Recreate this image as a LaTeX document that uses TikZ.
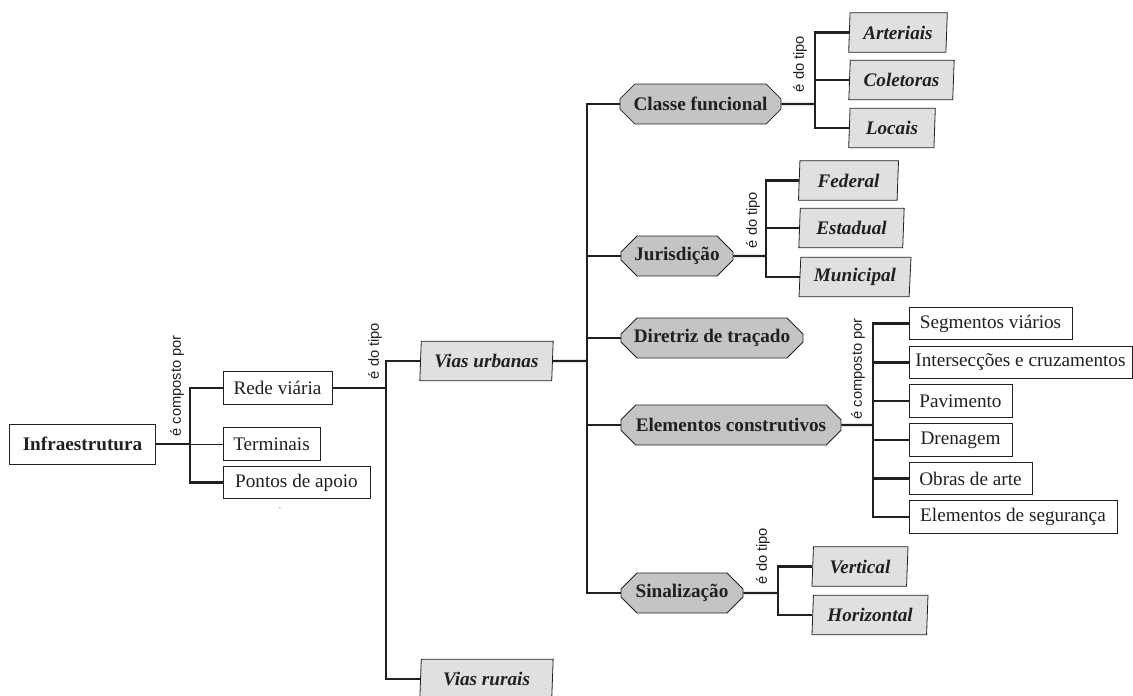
\documentclass[tikz,border=0pt]{standalone}
\usepackage{fontspec}
\setmainfont{Liberation Serif}
\setsansfont{Liberation Sans}
\usepackage{xcolor}
\usepackage{tikz}
\usetikzlibrary{shapes.geometric,shapes.misc}
\definecolor{octgray}{RGB}{196,196,196}
\definecolor{slantgray}{RGB}{224,224,224}
\definecolor{inkgray}{RGB}{35,31,32}
\newcommand{\boxfont}{\fontsize{14.4}{16}\selectfont}
\newcommand{\relfont}{\fontsize{11}{12}\selectfont\sffamily}

\begin{document}
\begin{tikzpicture}[x=0.75pt,y=-0.75pt,
    every node/.style={font=\boxfont,text=inkgray},
    plain/.style={draw=inkgray,fill=white,line width=0.6pt,inner sep=0pt,minimum height=24.5pt},
    group/.style={draw=inkgray,fill=octgray,line width=0.6pt,chamfered rectangle,
                  chamfered rectangle xsep=6pt,chamfered rectangle ysep=6pt,
                  inner sep=0pt,minimum height=30pt,font=\boxfont\bfseries},
    kind/.style={draw=inkgray,fill=slantgray,line width=0.6pt,trapezium,
                 trapezium left angle=84,trapezium right angle=96,trapezium stretches body,
                 inner sep=0pt,minimum height=29.5pt,font=\boxfont\bfseries\itshape},
    rel/.style={font=\relfont,rotate=90,inner sep=0pt},
    link/.style={draw=inkgray,line width=1.7pt},
    thinlink/.style={draw=inkgray,line width=0.6pt}]
      \useasboundingbox (0,0) rectangle (1133,696);

      % raiz e primeiro nivel
      \node[draw=inkgray,line width=0.6pt,minimum width=110pt,minimum height=30pt,
            inner sep=0pt,font=\boxfont\bfseries]
        (infra) at (82.5,444) {Infraestrutura};
      \node[plain,minimum width=81.75pt] (rede) at (277.5,388) {Rede viária};
      \node[plain,minimum width=72.75pt] (term) at (271.5,444) {Terminais};
      \node[plain,minimum width=110.25pt] (apoio) at (296.5,482.5) {Pontos de apoio};
      \node[font=\fontsize{8}{8}\selectfont,text=gray] (speck) at (280,508) {.};

      \node[kind,minimum width=100pt] (urbanas) at (486.5,361) {Vias urbanas};
      \node[kind,minimum width=100pt] (rurais) at (486.5,679) {Vias rurais};

      % grupos das vias urbanas
      \node[group,minimum width=120.75pt] (classe) at (700.5,104) {Classe funcional};
      \node[group,minimum width=84pt] (jurisd) at (677,256) {Jurisdição};
      \node[group,minimum width=136.5pt] (diretriz) at (712,338) {Diretriz de traçado};
      \node[group,minimum width=165pt] (constr) at (731,425) {Elementos construtivos};
      \node[group,minimum width=91.5pt] (sinal) at (682,593) {Sinalização};

      \node[kind,minimum width=74pt] (arter) at (898,32.5) {Arteriais};
      \node[kind,minimum width=79pt] (colet) at (901.5,80) {Coletoras};
      \node[kind,minimum width=65pt] (locais) at (892,128) {Locais};

      \node[kind,minimum width=75pt] (federal) at (848.5,180.5) {Federal};
      \node[kind,minimum width=79pt] (estad) at (851.5,228) {Estadual};
      \node[kind,minimum width=84pt] (munic) at (855,277) {Municipal};

      \node[plain,minimum width=122.25pt] (segm) at (990.5,323.5) {Segmentos viários};
      \node[plain,minimum width=167.25pt] (inters) at (1020.5,362.5) {Intersecções e cruzamentos};
      \node[plain,minimum width=77.25pt] (pavim) at (960.5,401) {Pavimento};
      \node[plain,minimum width=77.25pt] (dren) at (960.5,440) {Drenagem};
      \node[plain,minimum width=92.25pt] (obras) at (970.5,478.5) {Obras de arte};
      \node[plain,minimum width=156pt] (segur) at (1013,517) {Elementos de segurança};

      \node[kind,minimum width=72pt] (vert) at (860,566.5) {Vertical};
      \node[kind,minimum width=87pt] (horiz) at (870,615) {Horizontal};

      % rotulos das relacoes
      \node[rel] (relA) at (177,386) {é composto por};
      \node[rel] (relB) at (375,351) {é do tipo};
      \node[rel] (relC) at (800,64) {é do tipo};
      \node[rel] (relD) at (753,220) {é do tipo};
      \node[rel] (relE) at (858,369) {é composto por};
      \node[rel] (relF) at (763,556) {é do tipo};

      % ligacoes
      \coordinate (jinfra) at (190,444);
      \draw[link] (infra) -- (jinfra);
      \draw[link] (jinfra) |- (rede);
      \draw[thinlink] (jinfra) -- (term);
      \draw[link] (jinfra) |- (apoio);

      \coordinate (jrede) at (386,388);
      \draw[link] (rede) -- (jrede);
      \draw[link] (jrede) |- (urbanas);
      \draw[link] (jrede) |- (rurais);

      \coordinate (jurb) at (587,361);
      \draw[link] (urbanas) -- (jurb);
      \draw[link] (jurb) |- (classe);
      \draw[link] (jurb) |- (jurisd);
      \draw[link] (jurb) |- (diretriz);
      \draw[link] (jurb) |- (constr);
      \draw[link] (jurb) |- (sinal);

      \coordinate (jclasse) at (815,104);
      \draw[link] (classe) -- (jclasse);
      \draw[link] (jclasse) |- (arter);
      \draw[link] (jclasse) |- (colet);
      \draw[link] (jclasse) |- (locais);

      \coordinate (jjur) at (766,256);
      \draw[link] (jurisd) -- (jjur);
      \draw[link] (jjur) |- (federal);
      \draw[link] (jjur) |- (estad);
      \draw[link] (jjur) |- (munic);

      \coordinate (jconstr) at (873,425);
      \draw[link] (constr) -- (jconstr);
      \draw[link] (jconstr) |- (segm);
      \draw[link] (jconstr) |- (inters);
      \draw[link] (jconstr) |- (pavim);
      \draw[link] (jconstr) |- (dren);
      \draw[link] (jconstr) |- (obras);
      \draw[link] (jconstr) |- (segur);

      \coordinate (jsinal) at (778,593);
      \draw[link] (sinal) -- (jsinal);
      \draw[link] (jsinal) |- (vert);
      \draw[link] (jsinal) |- (horiz);
    \end{tikzpicture}
\end{document}
